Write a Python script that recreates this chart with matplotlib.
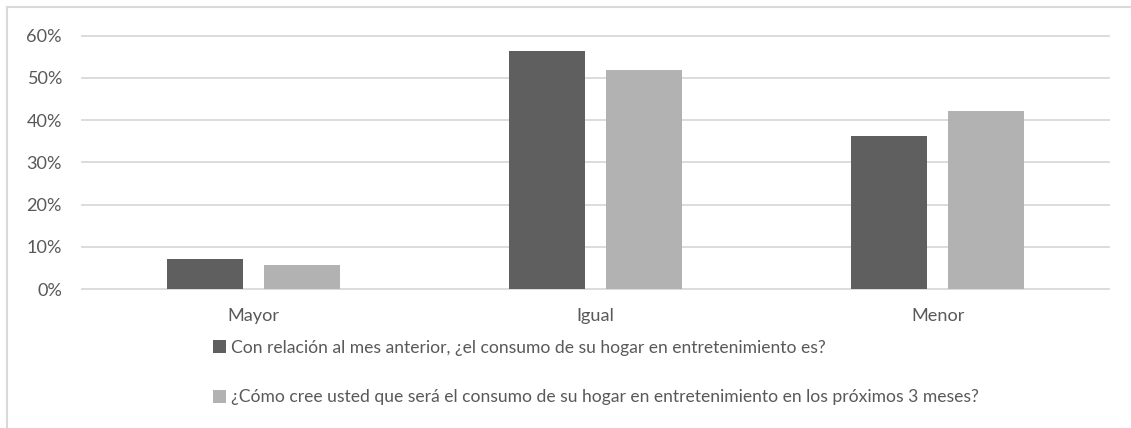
import matplotlib
matplotlib.use("Agg")
import matplotlib.pyplot as plt
from matplotlib.lines import Line2D
from matplotlib.ticker import PercentFormatter
import numpy as np

categories = ["Mayor", "Igual", "Menor"]
series_names = [
    "Con relación al mes anterior, ¿el consumo de su hogar en entretenimiento es?",
    "¿Cómo cree usted que será el consumo de su hogar en entretenimiento en los próximos 3 meses?",
]
series_anterior = [0.071, 0.564, 0.362]
series_proximos = [0.056, 0.518, 0.422]
yticks = [0.0, 0.1, 0.2, 0.3, 0.4, 0.5, 0.6]

colors = ["#5f5f5f", "#b2b2b2"]
text_color = "#595959"
grid_color = "#d9d9d9"

family = ['Lato', 'DejaVu Sans']
plt.rcParams['font.family'] = family

W, H = 1131, 428
fig = plt.figure(figsize=(W / 100, H / 100), dpi=100)

# choose a font size so the first legend entry spans about 595 px
fig.canvas.draw()
r = fig.canvas.get_renderer()
t = fig.text(0, 0, series_names[0], fontsize=12)
wpx = t.get_window_extent(r).width
t.remove()
fs = 12 * 595 / wpx

ax = fig.add_axes([82 / W, 1 - 289 / H, (1109 - 82) / W, (289 - 35.7) / H])

x = np.arange(len(categories))
bw = 0.222
off = 0.142
b1 = ax.bar(x - off, series_anterior, bw, color=colors[0], label=series_names[0], zorder=3)
b2 = ax.bar(x + off, series_proximos, bw, color=colors[1], label=series_names[1], zorder=3)

ax.set_xlim(-0.5, 2.5)
ax.set_ylim(0, 0.6)
ax.set_yticks(yticks)
ax.yaxis.set_major_formatter(PercentFormatter(1.0, decimals=0))
ax.set_xticks(x)
ax.set_xticklabels(categories)
ax.tick_params(axis='both', length=0, colors=text_color, labelsize=fs * 1.03)
ax.tick_params(axis='y', pad=14.4)
ax.tick_params(axis='x', pad=14)
for yv in yticks:
    ax.axhline(yv, color=grid_color, linewidth=1.3, zorder=0, clip_on=False)
for s in ax.spines.values():
    s.set_visible(False)

leg = fig.legend(handles=[b1, b2], loc='upper left', bbox_to_anchor=(213 / W, 1 - 340 / H),
                 frameon=False, ncol=1, fontsize=fs, labelcolor=text_color,
                 handlelength=0.75, handleheight=0.75, handletextpad=0.25,
                 labelspacing=1.9, borderaxespad=0, borderpad=0)

fig.add_artist(Line2D([7 / W, 1], [1 - 6.5 / H, 1 - 6.5 / H], color=grid_color, linewidth=1.5,
                      transform=fig.transFigure))
fig.add_artist(Line2D([7 / W, 7 / W], [0, 1 - 6.5 / H], color=grid_color, linewidth=1.5,
                      transform=fig.transFigure))

fig.savefig("out.png", dpi=100, facecolor="white")
